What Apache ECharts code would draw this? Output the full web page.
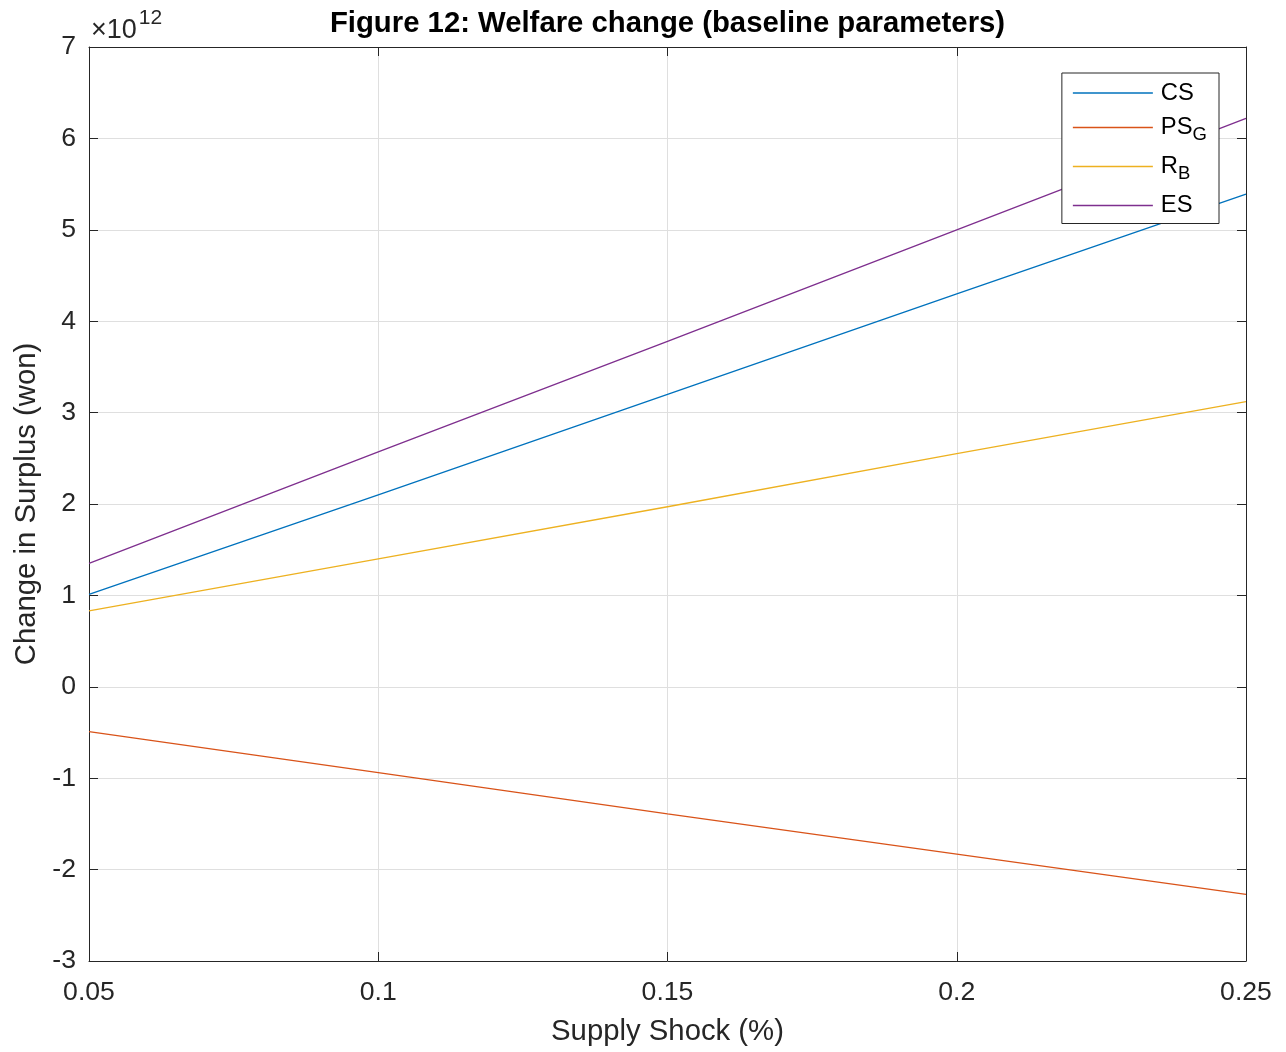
<!DOCTYPE html>
<html>
<head>
<meta charset="utf-8">
<script src="https://cdn.jsdelivr.net/npm/echarts@6/dist/echarts.min.js"></script>
<style>html,body{margin:0;padding:0;background:#fff}#c{width:1286px;height:1052px}</style>
</head>
<body>
<div id="c"></div>
<script>
// Supply shock (%) values
const shocks = [0.05, 0.10, 0.15, 0.20, 0.25];
// Series values in units of 10^12 won
const CS  = [1.01, 2.10, 3.20, 4.30, 5.39];
const PSG = [-0.49, -0.94, -1.39, -1.83, -2.27];
const RB  = [0.83, 1.40, 1.97, 2.55, 3.12];
const ES  = [1.35, 2.57, 3.78, 5.00, 6.22];
const yTicks = [-3, -2, -1, 0, 1, 2, 3, 4, 5, 6, 7];
const xTicks = ['0.05', '0.1', '0.15', '0.2', '0.25'];

const FONT = 'Arial, "Liberation Sans", Helvetica, sans-serif';
const pairs = a => shocks.map((x, i) => [x, a[i]]);
const labelMap = { CS: '{n|CS}', PSG: '{n|PS}{s|G}', RB: '{n|R}{s|B}', ES: '{n|ES}' };

const chart = echarts.init(document.getElementById('c'), null, { renderer: 'canvas' });
const axisLine = { show: true, onZero: false, lineStyle: { color: '#262626', width: 1 } };
const tickStyle = { show: true, inside: true, length: 9, lineStyle: { color: '#262626', width: 1 } };

chart.setOption({
  animation: false,
  backgroundColor: '#fff',
  textStyle: { fontFamily: FONT },
  title: {
    text: 'Figure 12: Welfare change (baseline parameters)',
    left: 662.5, top: 4, textAlign: 'center',
    textStyle: { fontFamily: FONT, fontWeight: 'bold', fontSize: 29.3, color: '#000' }
  },
  grid: { left: 89, right: 40, top: 47, bottom: 91, containLabel: false },
  legend: {
    orient: 'vertical', right: 67, top: 73,
    backgroundColor: '#fff', borderColor: '#262626', borderWidth: 1,
    padding: [8, 12, 6, 11], itemGap: 10.5, itemWidth: 80, itemHeight: 1.6,
    icon: 'rect',
    formatter: name => labelMap[name],
    textStyle: {
      fontFamily: FONT, color: '#000', fontSize: 23.8, padding: [0, 0, 0, 3],
      rich: {
        n: { fontFamily: FONT, fontSize: 23.8, color: '#000' },
        s: { fontFamily: FONT, fontSize: 18.5, color: '#000', padding: [14, 0, 0, 0] }
      }
    },
    data: ['CS', 'PSG', 'RB', 'ES']
  },
  xAxis: [{
    type: 'value', min: 0.05, max: 0.25, interval: 0.05, position: 'bottom',
    name: 'Supply Shock (%)', nameLocation: 'middle', nameGap: 56,
    nameTextStyle: { fontFamily: FONT, fontSize: 29.3, color: '#262626' },
    axisLine, axisTick: tickStyle,
    axisLabel: { fontFamily: FONT, fontSize: 26.6, color: '#262626', margin: 18,
      formatter: v => xTicks[Math.round((v - 0.05) / 0.05)] },
    splitLine: { show: true, lineStyle: { color: '#dfdfdf', width: 1 } }
  }, {
    type: 'value', min: 0.05, max: 0.25, interval: 0.05, position: 'top',
    axisLine, axisTick: tickStyle, axisLabel: { show: false }, splitLine: { show: false }
  }],
  yAxis: [{
    type: 'value', min: -3, max: 7, interval: 1, position: 'left',
    name: 'Change in Surplus (won)', nameLocation: 'middle', nameGap: 47,
    nameTextStyle: { fontFamily: FONT, fontSize: 29.3, color: '#262626' },
    axisLine, axisTick: tickStyle,
    axisLabel: { fontFamily: FONT, fontSize: 26.6, color: '#262626', margin: 13,
      formatter: v => String(yTicks[Math.round(v + 3)]) },
    splitLine: { show: true, lineStyle: { color: '#dfdfdf', width: 1 } }
  }, {
    type: 'value', min: -3, max: 7, interval: 1, position: 'right',
    axisLine, axisTick: tickStyle, axisLabel: { show: false }, splitLine: { show: false }
  }],
  graphic: [{
    type: 'text', left: 91, top: 8,
    style: {
      text: '{a|×10}{b|12}', fontFamily: FONT,
      rich: {
        a: { fontFamily: FONT, fontSize: 27, fill: '#262626', padding: [10, 0, 0, 0] },
        b: { fontFamily: FONT, fontSize: 21, fill: '#262626', padding: [0, 0, 14, 2] }
      }
    }
  }],
  series: [
    { name: 'CS', type: 'line', data: pairs(CS), symbol: 'none', color: '#0072BD', lineStyle: { width: 1.3 } },
    { name: 'PSG', type: 'line', data: pairs(PSG), symbol: 'none', color: '#D95319', lineStyle: { width: 1.3 } },
    { name: 'RB', type: 'line', data: pairs(RB), symbol: 'none', color: '#EDB120', lineStyle: { width: 1.3 } },
    { name: 'ES', type: 'line', data: pairs(ES), symbol: 'none', color: '#7E2F8E', lineStyle: { width: 1.3 } }
  ]
});
</script>
</body>
</html>
